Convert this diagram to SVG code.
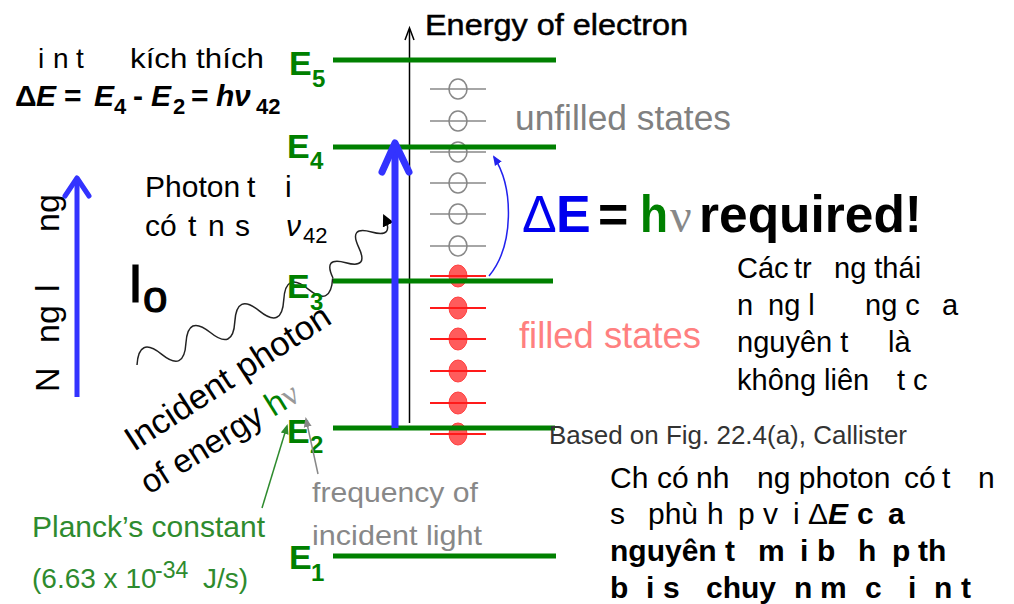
<svg xmlns="http://www.w3.org/2000/svg" width="1014" height="604" viewBox="0 0 1014 604">
<defs>
<style>
text{font-family:"Liberation Sans",Arial,sans-serif;white-space:pre}
.vn{font-size:30px;fill:#000}
.vs{font-size:29px;fill:#000}
.lvl{stroke:#008000;stroke-width:5}
.el{font-size:34px;font-weight:bold;fill:#008000}
.es{font-size:24px;font-weight:bold;fill:#008000}
.gl{stroke:#888;stroke-width:1.6}
.gc{fill:none;stroke:#888;stroke-width:1.6}
.rl{stroke:#ff1a1a;stroke-width:2}
.rc{fill:#ff5c5c;stroke:#ff4040;stroke-width:1}
.sym{font-family:"Liberation Serif","DejaVu Serif",serif}
</style>
<marker id="ahBlk" markerWidth="12" markerHeight="12" refX="9" refY="6" orient="auto" markerUnits="userSpaceOnUse"><path d="M0,0 L12,6 L0,12 z" fill="#000"/></marker>
<marker id="ahBlue" markerWidth="10" markerHeight="10" refX="8" refY="5" orient="auto" markerUnits="userSpaceOnUse"><path d="M0,1 L10,5 L0,9 z" fill="#2222ee"/></marker>
<marker id="ahGreen" markerWidth="10" markerHeight="10" refX="8" refY="5" orient="auto" markerUnits="userSpaceOnUse"><path d="M0,1 L10,5 L0,9 z" fill="#2e8b2e"/></marker>
<marker id="ahGray" markerWidth="10" markerHeight="10" refX="8" refY="5" orient="auto" markerUnits="userSpaceOnUse"><path d="M0,1 L10,5 L0,9 z" fill="#888"/></marker>
</defs>
<rect width="1014" height="604" fill="#fff"/>

<g id="states">
<g id="unfilled">
<line class="gl" x1="430" y1="89" x2="486" y2="89"/><ellipse class="gc" cx="458" cy="89" rx="9" ry="10"/>
<line class="gl" x1="430" y1="121" x2="486" y2="121"/><ellipse class="gc" cx="458" cy="121" rx="9" ry="10"/>
<line class="gl" x1="430" y1="152" x2="486" y2="152"/><ellipse class="gc" cx="458" cy="152" rx="9" ry="10"/>
<line class="gl" x1="430" y1="183" x2="486" y2="183"/><ellipse class="gc" cx="458" cy="183" rx="9" ry="10"/>
<line class="gl" x1="430" y1="214" x2="486" y2="214"/><ellipse class="gc" cx="458" cy="214" rx="9" ry="10"/>
<line class="gl" x1="430" y1="246" x2="486" y2="246"/><ellipse class="gc" cx="458" cy="246" rx="9" ry="10"/>
</g>
<g id="filled">
<ellipse class="rc" cx="458" cy="276" rx="9" ry="11"/><line class="rl" x1="430" y1="276" x2="486" y2="276"/>
<ellipse class="rc" cx="458" cy="308" rx="9" ry="11"/><line class="rl" x1="430" y1="308" x2="486" y2="308"/>
<ellipse class="rc" cx="458" cy="339" rx="9" ry="11"/><line class="rl" x1="430" y1="339" x2="486" y2="339"/>
<ellipse class="rc" cx="458" cy="371" rx="9" ry="11"/><line class="rl" x1="430" y1="371" x2="486" y2="371"/>
<ellipse class="rc" cx="458" cy="403" rx="9" ry="11"/><line class="rl" x1="430" y1="403" x2="486" y2="403"/>
<ellipse class="rc" cx="458" cy="434" rx="9" ry="11"/><line class="rl" x1="430" y1="434" x2="486" y2="434"/>
</g>
</g>

<g id="axis">
<line x1="409.5" y1="423" x2="409.5" y2="30" stroke="#000" stroke-width="1.5"/>
<polyline points="405,40 409.5,28 414,40" fill="none" stroke="#000" stroke-width="1.5"/>
<text x="425" y="35" font-size="30" stroke="#000" stroke-width="0.5" textLength="263" lengthAdjust="spacingAndGlyphs">Energy of electron</text>
</g>

<g id="levels">
<g id="E5"><line class="lvl" x1="333" y1="60" x2="556" y2="60"/><text class="el" x="289" y="75">E</text><text class="es" x="312" y="87">5</text></g>
<g id="E4"><line class="lvl" x1="333" y1="147" x2="556" y2="147"/><text class="el" x="287" y="158">E</text><text class="es" x="310" y="169">4</text></g>
<g id="E3"><line class="lvl" x1="333" y1="281" x2="553" y2="281"/></g>
<g id="E2"><line class="lvl" x1="333" y1="428" x2="555" y2="428"/><text class="el" x="287" y="443">E</text><text class="es" x="310" y="453">2</text></g>
<g id="E1"><line class="lvl" x1="333" y1="556" x2="556" y2="556"/><text class="el" x="289" y="569">E</text><text class="es" x="311" y="581">1</text></g>
</g>

<g id="connectors">
<path d="M0,0 q13.4,-26 26.75,0 t26.75,0 t26.75,0 t26.75,0 t26.75,0 t26.75,0 t26.75,0 t26.75,0" transform="translate(137,365) rotate(-23.9)" fill="none" stroke="#222" stroke-width="1.5"/>
<path d="M0,0 q10,-22 20,0 t20,0 t20,0 t20,0" transform="translate(333,278) rotate(-50)" fill="none" stroke="#222" stroke-width="1.5" marker-end="url(#ahBlk)"/>
<path d="M489,276 C514,246 514,188 494,157" fill="none" stroke="#2222ee" stroke-width="1.5" marker-end="url(#ahBlue)"/>
<line x1="262" y1="508" x2="287" y2="426" stroke="#2e8b2e" stroke-width="1.5" marker-end="url(#ahGreen)"/>
<line x1="318" y1="474" x2="306" y2="419" stroke="#888" stroke-width="1.5" marker-end="url(#ahGray)"/>
<g id="mainArrow" stroke="#3333ff" stroke-width="7" fill="none" stroke-linecap="round" stroke-linejoin="round">
<line x1="395" y1="428" x2="395" y2="146" stroke-linecap="butt"/>
<polyline points="382,172 395,143 409,172"/>
</g>
<g id="energyArrow" stroke="#3333ff" stroke-width="5" fill="none" stroke-linecap="round" stroke-linejoin="round">
<line x1="77" y1="397" x2="77" y2="180" stroke-linecap="butt"/>
<polyline points="65,196 77,178 89,196"/>
</g>
</g>

<g id="E3label"><text class="el" x="287" y="298">E</text><text class="es" x="310" y="310">3</text></g>

<g id="stateLabels">
<text x="515" y="130" font-size="35" fill="#808080" textLength="216" lengthAdjust="spacingAndGlyphs">unfilled states</text>
<text x="519" y="348" font-size="36" fill="#ff8080" textLength="182" lengthAdjust="spacingAndGlyphs">filled states</text>
<text y="232" font-size="52"><tspan x="522" fill="#0000ee">Δ</tspan><tspan x="556" fill="#0000ee" font-weight="bold">E</tspan><tspan x="598" font-weight="bold">=</tspan></text>
<text x="640" y="232" font-size="52" font-weight="bold" fill="#008000" textLength="28" lengthAdjust="spacingAndGlyphs">h</text>
<text x="670" y="232" font-size="48" class="sym" fill="#888">ν</text>
<text x="699" y="232" font-size="52" font-weight="bold" textLength="223" lengthAdjust="spacingAndGlyphs">required!</text>
<text x="549" y="444" font-size="25" fill="#333" textLength="358" lengthAdjust="spacingAndGlyphs">Based on Fig. 22.4(a), Callister</text>
</g>

<g id="photon">
<text y="302" stroke="#000" stroke-width="1.2"><tspan x="128" font-size="54">I</tspan><tspan x="143" y="312" font-size="44">o</tspan></text>
<text transform="translate(134,452) rotate(-33)" font-size="34" textLength="238" lengthAdjust="spacingAndGlyphs">Incident photon</text>
<text transform="translate(149,495) rotate(-32)" font-size="33">of energy <tspan fill="#008000">h</tspan><tspan class="sym" fill="#999">ν</tspan></text>
</g>

<g id="planck">
<text x="32" y="537" font-size="30" fill="#2e8b2e" textLength="233" lengthAdjust="spacingAndGlyphs">Planck’s constant</text>
<text y="588" font-size="28" fill="#2e8b2e"><tspan x="32">(6.63 x 10</tspan><tspan x="155" y="578" font-size="23">-34</tspan><tspan x="203" y="588">J/s)</tspan></text>
</g>

<g id="freq">
<text x="312" y="502" font-size="28" fill="#888" textLength="166" lengthAdjust="spacingAndGlyphs">frequency of</text>
<text x="312" y="545" font-size="28" fill="#888" textLength="170" lengthAdjust="spacingAndGlyphs">incident light</text>
</g>

<g id="excitedNote">
<text y="68" font-size="28"><tspan x="38">i</tspan><tspan x="53">n</tspan><tspan x="76">t</tspan><tspan x="130" textLength="134" lengthAdjust="spacingAndGlyphs">kích thích</tspan></text>
<text y="106" font-size="30" font-weight="bold"><tspan x="15">Δ</tspan><tspan x="36" font-style="italic">E</tspan><tspan x="64">=</tspan><tspan x="94" font-style="italic">E</tspan><tspan x="114" y="114" font-size="22">4</tspan><tspan x="133" y="106">-</tspan><tspan x="151" font-style="italic">E</tspan><tspan x="173" y="114" font-size="22">2</tspan><tspan x="191" y="106">=</tspan><tspan x="216" font-style="italic">h</tspan><tspan x="234" font-style="italic">ν</tspan><tspan x="256" y="114" font-size="22">42</tspan></text>
</g>

<g id="photonNote">
<text class="vn" y="197"><tspan x="145">Photon</tspan><tspan x="247">t</tspan><tspan x="285">i</tspan></text>
<text class="vn" y="236"><tspan x="145">có</tspan><tspan x="188">t</tspan><tspan x="208">n</tspan><tspan x="235">s</tspan><tspan x="286" font-style="italic">ν</tspan><tspan x="303" y="243" font-size="22">42</tspan></text>
</g>

<g id="energyLabel">
<text transform="translate(59,392) rotate(-90)" font-size="34"><tspan x="0">N</tspan><tspan x="49">ng</tspan><tspan x="100">l</tspan><tspan x="160">ng</tspan></text>
</g>

<g id="statesNote">
<text class="vs" y="278"><tspan x="737">Các</tspan><tspan x="794">tr</tspan><tspan x="834">ng thái</tspan></text>
<text class="vs" y="315"><tspan x="737">n</tspan><tspan x="768">ng l</tspan><tspan x="865">ng c</tspan><tspan x="942">a</tspan></text>
<text class="vs" y="352"><tspan x="737">nguyên t</tspan><tspan x="888">là</tspan></text>
<text class="vs" y="390"><tspan x="737">không liên</tspan><tspan x="897">t</tspan><tspan x="913">c</tspan></text>
</g>

<g id="absorbNote">
<text class="vn" y="488"><tspan x="610">Ch</tspan><tspan x="657">có</tspan><tspan x="696">nh</tspan><tspan x="757">ng photon</tspan><tspan x="904">có</tspan><tspan x="942">t</tspan><tspan x="978">n</tspan></text>
<text class="vn" y="524"><tspan x="610">s</tspan><tspan x="648">phù</tspan><tspan x="707">h</tspan><tspan x="738">p</tspan><tspan x="763">v</tspan><tspan x="793">i</tspan><tspan x="808">Δ</tspan><tspan x="828" font-weight="bold" font-style="italic">E</tspan><tspan x="857" font-weight="bold">c</tspan><tspan x="888" font-weight="bold">a</tspan></text>
<text class="vn" y="561" font-weight="bold"><tspan x="610">nguyên</tspan><tspan x="725">t</tspan><tspan x="758">m</tspan><tspan x="800">i</tspan><tspan x="817">b</tspan><tspan x="858">h</tspan><tspan x="892">p</tspan><tspan x="918">th</tspan></text>
<text class="vn" y="598" font-weight="bold"><tspan x="610">b</tspan><tspan x="646">i</tspan><tspan x="663">s</tspan><tspan x="706">chuy</tspan><tspan x="794">n</tspan><tspan x="820">m</tspan><tspan x="865">c</tspan><tspan x="908">i</tspan><tspan x="934">n</tspan><tspan x="961">t</tspan></text>
</g>
</svg>
